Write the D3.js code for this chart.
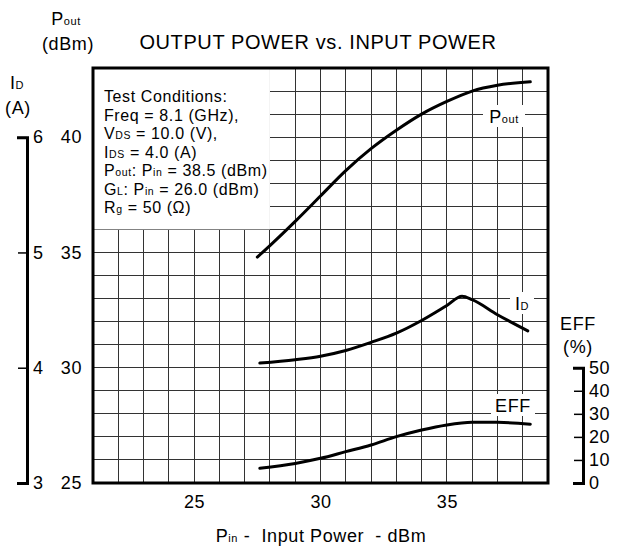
<!DOCTYPE html>
<html>
<head>
<meta charset="utf-8">
<script src="https://cdn.jsdelivr.net/npm/d3@7"></script>
<style>
  body { margin: 0; background: #fff; }
  text { font-family: "Liberation Sans", Arial, sans-serif; fill: #000; white-space: pre; letter-spacing: 0.6px; }
</style>
</head>
<body>
<svg id="chart" width="630" height="551"></svg>
<script>
// Pout (dBm) vs Pin (dBm)
const poutPin  = [27.5, 28.0, 29.0, 30.0, 31.0, 32.0, 33.0, 34.0, 35.0, 36.0, 37.0, 38.3];
const poutVals = [34.8, 35.3, 36.35, 37.45, 38.55, 39.5, 40.3, 41.0, 41.55, 42.0, 42.25, 42.4];
// ID (A) vs Pin
const idPin  = [27.6, 29.0, 30.0, 31.0, 32.0, 33.0, 34.0, 35.0, 35.6, 36.0, 37.0, 38.2];
const idVals = [4.04, 4.07, 4.10, 4.15, 4.22, 4.30, 4.41, 4.54, 4.62, 4.59, 4.46, 4.32];
// EFF (%) vs Pin
const effPin  = [27.6, 29.0, 30.0, 31.0, 32.0, 33.0, 34.0, 35.0, 36.0, 37.0, 38.3];
const effVals = [6.4, 8.5, 10.7, 13.6, 16.5, 20.1, 23.0, 25.2, 26.3, 26.3, 25.5];

// tick labels
const xTicks = [25, 30, 35];
const poutTicks = [25, 30, 35, 40];
const idTicks = [3, 4, 5, 6];
const effTicks = [0, 10, 20, 30, 40, 50];

// test conditions text, [text, isSub]
const conditions = [
  [["Test Conditions:"]],
  [["Freq = 8.1 (GHz),"]],
  [["V"], ["DS", true], [" = 10.0 (V),"]],
  [["I"], ["DS", true], [" = 4.0 (A)"]],
  [["P"], ["out", true], [": P"], ["in", true], [" = 38.5 (dBm)"]],
  [["G"], ["L", true], [": P"], ["in", true], [" = 26.0 (dBm)"]],
  [["R"], ["g", true], [" = 50 (\u03A9)"]]
];

const svg = d3.select("#chart");
const m = { left: 93, right: 548, top: 68, bottom: 483 };

const x = d3.scaleLinear().domain([21, 39]).range([m.left, m.right]);
const y = d3.scaleLinear().domain([25, 43]).range([m.bottom, m.top]);
// secondary scales sharing the same pixels
const yId = d3.scaleLinear().domain([3, 6.6]).range([m.bottom, m.top]);
const yEff = d3.scaleLinear().domain([0, 180]).range([m.bottom, m.top]);

// grid
const grid = svg.append("g").attr("shape-rendering", "crispEdges")
  .attr("stroke", "#333").attr("stroke-width", 1);
grid.selectAll("line.v").data(d3.range(22, 39)).enter().append("line")
  .attr("class", "v")
  .attr("x1", d => x(d)).attr("x2", d => x(d))
  .attr("y1", m.top).attr("y2", m.bottom);
grid.selectAll("line.h").data(d3.range(26, 43)).enter().append("line")
  .attr("class", "h")
  .attr("x1", m.left).attr("x2", m.right)
  .attr("y1", d => y(d)).attr("y2", d => y(d));

// white box for the test conditions
svg.append("rect")
  .attr("x", x(21)).attr("y", y(43))
  .attr("width", x(28) - x(21)).attr("height", y(36) - y(43))
  .attr("fill", "#fff");

const condText = svg.append("text").attr("font-size", 16);
conditions.forEach((line, i) => {
  const t = condText.append("tspan").attr("x", 104).attr("y", 102 + i * 18.5);
  line.forEach(seg => {
    t.append("tspan").attr("font-size", seg[1] ? 10.5 : null).text(seg[0]);
  });
});

// curves
const line = (xs, ys, sy) => d3.line()
  .x((d, i) => x(xs[i]))
  .y(d => sy(d))
  .curve(d3.curveMonotoneX)(ys);

const curves = svg.append("g").attr("fill", "none").attr("stroke", "#000")
  .attr("stroke-width", 3).attr("stroke-linecap", "round");
curves.append("path").attr("d", line(poutPin, poutVals, y));
curves.append("path").attr("d", line(idPin, idVals, yId));
curves.append("path").attr("d", line(effPin, effVals, yEff));

// curve labels with white background
function curveLabel(cx, cy, main, sub, w) {
  svg.append("rect").attr("x", cx - w / 2).attr("y", cy - 11)
    .attr("width", w).attr("height", 22).attr("fill", "#fff");
  const t = svg.append("text").attr("x", cx).attr("y", cy + 6.5)
    .attr("text-anchor", "middle").attr("font-size", 18);
  t.append("tspan").text(main);
  if (sub) t.append("tspan").attr("font-size", 11).text(sub);
}
curveLabel(504, 116, "P", "out", 42);
curveLabel(522, 303, "I", "D", 24);
curveLabel(513, 405, "EFF", null, 44);

// frame
svg.append("rect").attr("x", m.left).attr("y", m.top)
  .attr("width", m.right - m.left).attr("height", m.bottom - m.top)
  .attr("fill", "none").attr("stroke", "#000").attr("stroke-width", 3);

// x axis labels
const xAxis = svg.append("g").attr("transform", `translate(0,${m.bottom})`)
  .call(d3.axisBottom(x).tickValues(xTicks).tickSize(0).tickPadding(12));
xAxis.select(".domain").remove();
xAxis.selectAll("text").attr("font-size", 18).attr("font-family", null);

// Pout labels
const pAxis = svg.append("g").attr("transform", `translate(${m.left},0)`)
  .call(d3.axisLeft(y).tickValues(poutTicks).tickSize(0).tickPadding(11));
pAxis.select(".domain").remove();
pAxis.selectAll("text").attr("font-size", 18).attr("font-family", null);

// ID bracket axis
const idAxisScale = d3.scaleLinear().domain([3, 6]).range([m.bottom, y(40)]);
const idAxis = svg.append("g").attr("transform", "translate(27,0)")
  .call(d3.axisRight(idAxisScale).tickValues(idTicks).tickFormat(d3.format("d"))
    .tickSizeInner(-9).tickSizeOuter(-10).tickPadding(6));
idAxis.select(".domain").attr("stroke-width", 3);
idAxis.selectAll(".tick line").attr("stroke-width", 1.5);
idAxis.selectAll("text").attr("font-size", 18).attr("font-family", null);

// EFF bracket axis
const effAxisScale = d3.scaleLinear().domain([0, 50]).range([m.bottom, y(30)]);
const effAxis = svg.append("g").attr("transform", "translate(583,0)")
  .call(d3.axisRight(effAxisScale).tickValues(effTicks)
    .tickSizeInner(-9).tickSizeOuter(-10).tickPadding(6));
effAxis.select(".domain").attr("stroke-width", 3);
effAxis.selectAll(".tick line").attr("stroke-width", 1.5);
effAxis.selectAll("text").attr("font-size", 18).attr("font-family", null);

// titles and units
svg.append("text").attr("x", 318).attr("y", 49)
  .attr("text-anchor", "middle").attr("font-size", 20)
  .text("OUTPUT POWER vs. INPUT POWER");

const pLbl = svg.append("text").attr("x", 66).attr("y", 25)
  .attr("text-anchor", "middle").attr("font-size", 18);
pLbl.append("tspan").text("P");
pLbl.append("tspan").attr("font-size", 11).text("out");
svg.append("text").attr("x", 68).attr("y", 50)
  .attr("text-anchor", "middle").attr("font-size", 18).text("(dBm)");

const iLbl = svg.append("text").attr("x", 17).attr("y", 89)
  .attr("text-anchor", "middle").attr("font-size", 18);
iLbl.append("tspan").text("I");
iLbl.append("tspan").attr("font-size", 11).text("D");
svg.append("text").attr("x", 18).attr("y", 114)
  .attr("text-anchor", "middle").attr("font-size", 18).text("(A)");

svg.append("text").attr("x", 578).attr("y", 330)
  .attr("text-anchor", "middle").attr("font-size", 18).text("EFF");
svg.append("text").attr("x", 578).attr("y", 353)
  .attr("text-anchor", "middle").attr("font-size", 18).text("(%)");

const xLbl = svg.append("text").attr("x", 321).attr("y", 542)
  .attr("text-anchor", "middle").attr("font-size", 18);
xLbl.append("tspan").text("P");
xLbl.append("tspan").attr("font-size", 11).text("in");
xLbl.append("tspan").text(" -  Input Power  - dBm");
</script>
</body>
</html>
